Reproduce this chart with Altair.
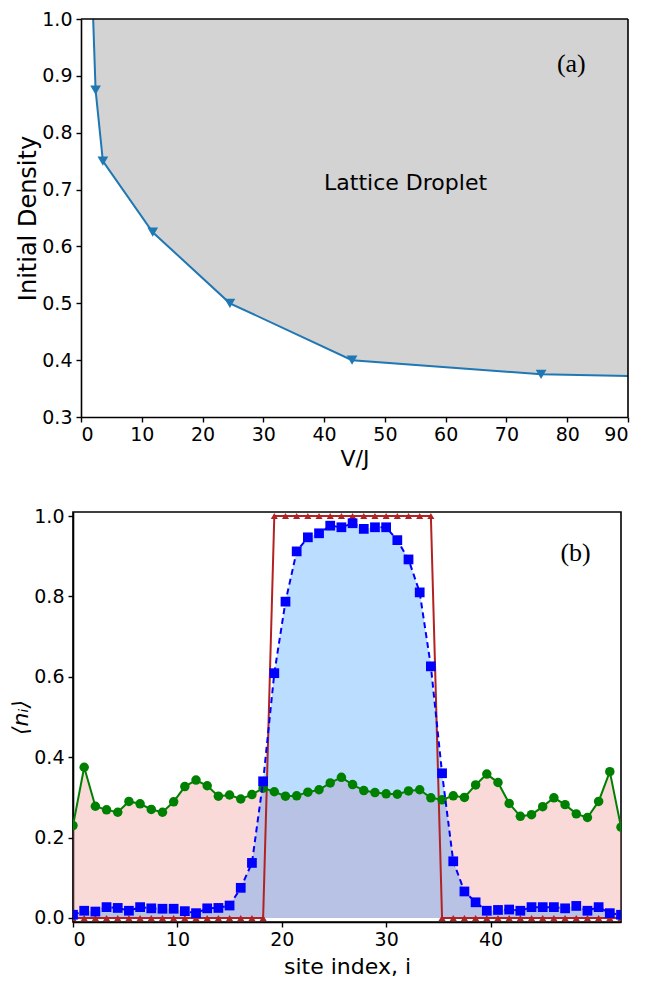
import altair as alt
import pandas as pd

# ---------------- Panel (a): phase boundary ----------------
v_over_j = [2.0, 2.4, 3.6, 11.8, 24.5, 44.6, 75.7, 90.0]
initial_density = [1.0, 0.875, 0.75, 0.625, 0.5, 0.4, 0.375, 0.372]
has_marker = [False, True, True, True, True, True, True, False]

# ---------------- Panel (b): site occupations ----------------
site_x = [round(k * 52.5 / 49, 4) for k in range(50)]
n_circles = [0.230, 0.375, 0.278, 0.269, 0.263, 0.290, 0.284, 0.270, 0.263, 0.289,
             0.327, 0.343, 0.329, 0.303, 0.306, 0.296, 0.307, 0.323, 0.314, 0.303,
             0.304, 0.313, 0.319, 0.336, 0.350, 0.332, 0.317, 0.312, 0.309, 0.308,
             0.316, 0.319, 0.299, 0.294, 0.304, 0.300, 0.331, 0.358, 0.337, 0.285,
             0.253, 0.257, 0.277, 0.299, 0.282, 0.259, 0.250, 0.290, 0.364, 0.226]
n_squares = [0.008, 0.018, 0.016, 0.027, 0.025, 0.018, 0.027, 0.024, 0.023, 0.023,
             0.017, 0.012, 0.024, 0.025, 0.031, 0.075, 0.137, 0.340, 0.609, 0.787,
             0.912, 0.947, 0.957, 0.976, 0.972, 0.982, 0.968, 0.972, 0.972, 0.940,
             0.892, 0.810, 0.626, 0.360, 0.141, 0.066, 0.039, 0.018, 0.020, 0.021,
             0.018, 0.027, 0.027, 0.027, 0.024, 0.030, 0.018, 0.027, 0.012, 0.008]
n_triangles = [0.0] * 18 + [1.0] * 15 + [0.0] * 17

df_a = pd.DataFrame({"V": v_over_j, "rho": initial_density, "m": has_marker})
df_b = pd.DataFrame({"x": site_x, "circ": n_circles, "sq": n_squares, "tri": n_triangles})

FONT = "DejaVu Sans"
LBL = 19
TTL = 22
SHIFT = 8  # panel (a) plot starts a little to the right of panel (b)
WA, HA = 547, 398

xa = alt.X("V:Q", scale=alt.Scale(domain=[0, 90], nice=False, zero=False, range=[SHIFT, SHIFT + WA]),
           axis=alt.Axis(title="V/J", values=list(range(0, 91, 10)), format="d"))
ya = alt.Y("rho:Q", scale=alt.Scale(domain=[0.3, 1.0], nice=False, zero=False),
           axis=alt.Axis(title="Initial Density", values=[0.3, 0.4, 0.5, 0.6, 0.7, 0.8, 0.9, 1.0],
                         format=".1f", titlePadding=1, titleFontSize=24, offset=-SHIFT))

base_a = alt.Chart(df_a)
area_a = base_a.mark_area(color="#d3d3d3", clip=True).encode(x=xa, y=ya, y2=alt.datum(1.0))
line_a = base_a.mark_line(color="#1f77b4", strokeWidth=2, clip=True).encode(x=xa, y=ya)
pts_a = base_a.transform_filter("datum.m").mark_point(
    shape="triangle-down", filled=True, color="#1f77b4", size=115, opacity=1, clip=True
).encode(x=xa, y=ya)
txt_a = alt.Chart(pd.DataFrame({"V": [40.0], "rho": [0.7], "t": ["Lattice Droplet"]})).mark_text(
    font=FONT, fontSize=22, align="left", baseline="alphabetic", color="black"
).encode(x=xa, y=ya, text="t:N")
lab_a = alt.Chart(pd.DataFrame({"V": [78.3], "rho": [0.906], "t": ["(a)"]})).mark_text(
    font="Liberation Serif", fontSize=26, align="left", baseline="alphabetic", color="black"
).encode(x=xa, y=ya, text="t:N")
spine_top = alt.Chart(pd.DataFrame({"V": [0.0], "V2": [90.0], "rho": [1.0]})).mark_rule(
    color="black", strokeWidth=1.6).encode(x=xa, x2="V2:Q", y=ya)
spine_right = alt.Chart(pd.DataFrame({"V": [90.0], "rho": [0.3], "rho2": [1.0]})).mark_rule(
    color="black", strokeWidth=1.6).encode(x=xa, y=ya, y2="rho2:Q")

top = alt.layer(area_a, line_a, pts_a, txt_a, lab_a, spine_top, spine_right).properties(
    width=WA + SHIFT, height=HA, view=alt.ViewBackground(stroke="transparent"))

xb = alt.X("x:Q", scale=alt.Scale(domain=[0, 52.5], nice=False, zero=False),
           axis=alt.Axis(title="site index, i", values=[0, 10, 20, 30, 40], format="d",
                         titlePadding=7))
yscale_b = alt.Scale(domain=[-0.01, 1.01], nice=False, zero=False)
yaxis_b = alt.Axis(title="⟨nᵢ⟩", values=[0.0, 0.2, 0.4, 0.6, 0.8, 1.0], format=".1f",
                   titlePadding=1, titleFontStyle="italic")

base_b = alt.Chart(df_b)
pink = base_b.mark_area(color="lightcoral", opacity=0.3, clip=True).encode(
    x=xb, y=alt.Y("circ:Q", scale=yscale_b, axis=yaxis_b), y2=alt.datum(0.0))
blue_fill = base_b.mark_area(color="dodgerblue", opacity=0.3, clip=True).encode(
    x=xb, y=alt.Y("sq:Q", scale=yscale_b), y2=alt.datum(0.0))
red_line = base_b.mark_line(color="#b22222", strokeWidth=2, clip=True).encode(
    x=xb, y=alt.Y("tri:Q", scale=yscale_b))
red_pts = base_b.mark_point(shape="triangle-up", filled=True, color="#b22222", size=50,
                            opacity=1, clip=True).encode(x=xb, y=alt.Y("tri:Q", scale=yscale_b))
green_line = base_b.mark_line(color="green", strokeWidth=2, clip=True).encode(
    x=xb, y=alt.Y("circ:Q", scale=yscale_b))
green_pts = base_b.mark_point(shape="circle", filled=True, color="green", size=90,
                              opacity=1, clip=True).encode(x=xb, y=alt.Y("circ:Q", scale=yscale_b))
blue_line = base_b.mark_line(color="blue", strokeWidth=2, strokeDash=[6, 4], clip=True).encode(
    x=xb, y=alt.Y("sq:Q", scale=yscale_b))
blue_pts = base_b.mark_point(shape="square", filled=True, color="blue", size=95,
                             opacity=1, clip=True).encode(x=xb, y=alt.Y("sq:Q", scale=yscale_b))
lab_b = alt.Chart(pd.DataFrame({"x": [46.7], "y": [0.889], "t": ["(b)"]})).mark_text(
    font="Liberation Serif", fontSize=26, align="left", baseline="alphabetic", color="black"
).encode(x=xb, y=alt.Y("y:Q", scale=yscale_b), text="t:N")

bottom = alt.layer(pink, blue_fill, red_line, red_pts, green_line, green_pts,
                   blue_line, blue_pts, lab_b).properties(width=548, height=410)

chart = alt.vconcat(top, bottom, spacing=36).properties(
    padding={"left": 0, "top": 1, "right": 5, "bottom": 0}
).configure(
    font=FONT
).configure_view(
    stroke="black", strokeWidth=1.6
).configure_axis(
    grid=False, labelFont=FONT, titleFont=FONT, labelFontSize=LBL, titleFontSize=TTL,
    titleFontWeight="normal", labelColor="black", titleColor="black",
    tickColor="black", domainColor="black", tickSize=5, tickWidth=1.4, domainWidth=1.6,
    labelPadding=4, titlePadding=4
).configure_axisX(labelPadding=3)

chart.save("out.html", embed_options={"renderer": "svg", "actions": False})
